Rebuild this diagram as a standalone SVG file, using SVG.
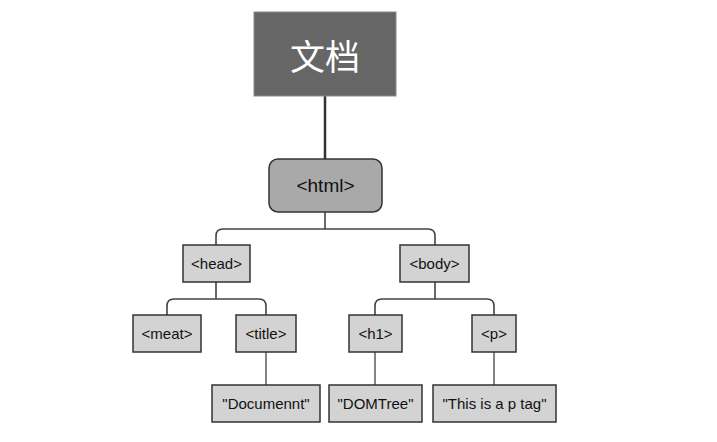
<svg xmlns="http://www.w3.org/2000/svg" width="717" height="442" viewBox="0 0 717 442">
<style>
.box{fill:#d3d3d3;stroke:#333;stroke-width:1.5}
.t{font-family:"Liberation Sans",Arial,sans-serif;font-size:15px;fill:#111;text-anchor:middle;dominant-baseline:central}
.ln{fill:none;stroke:#444;stroke-width:1.6}
.ln2{fill:none;stroke:#666;stroke-width:1.6}
</style>
<rect width="717" height="442" fill="#fff"/>
<g id="connectors">
<line x1="325" y1="96" x2="325" y2="159" stroke="#333" stroke-width="2.5"/>
<path class="ln" d="M325 212 V229 M216 245 V236 Q216 229 223 229 H428 Q435 229 435 236 V245"/>
<path class="ln" d="M216 282 V299 M167 315 V306 Q167 299 174 299 H259 Q266 299 266 306 V315"/>
<path class="ln" d="M435 282 V299 M375 315 V306 Q375 299 382 299 H487 Q494 299 494 306 V315"/>
<path class="ln2" d="M266 352 V385 M375 352 V385 M494 352 V385"/>
</g>
<g id="doc">
<rect x="254" y="12" width="142" height="84" fill="#666" stroke="#888" stroke-width="1"/>
<text x="325" y="54" font-family="'Noto Sans CJK SC',sans-serif" font-size="35" fill="#fff" text-anchor="middle" dominant-baseline="central">文档</text>
</g>
<g id="html">
<rect x="269" y="159" width="113" height="53" rx="9" fill="#a9a9a9" stroke="#333" stroke-width="1.5"/>
<text class="t" x="325.5" y="185.5" style="font-size:19px">&lt;html&gt;</text>
</g>
<g id="head">
<rect class="box" x="183" y="245" width="67" height="37"/>
<text class="t" x="216.5" y="263.5">&lt;head&gt;</text>
</g>
<g id="body">
<rect class="box" x="400" y="245" width="69" height="37"/>
<text class="t" x="434.5" y="263.5">&lt;body&gt;</text>
</g>
<g id="meat">
<rect class="box" x="133" y="315" width="68" height="37"/>
<text class="t" x="167" y="333.5">&lt;meat&gt;</text>
</g>
<g id="title">
<rect class="box" x="236" y="315" width="60" height="37"/>
<text class="t" x="266" y="333.5">&lt;title&gt;</text>
</g>
<g id="h1">
<rect class="box" x="349" y="315" width="53" height="37"/>
<text class="t" x="375.5" y="333.5">&lt;h1&gt;</text>
</g>
<g id="p">
<rect class="box" x="472" y="315" width="44" height="37"/>
<text class="t" x="494" y="333.5">&lt;p&gt;</text>
</g>
<g id="documennt">
<rect class="box" x="212" y="385" width="108" height="37"/>
<text class="t" x="266" y="403.5">"Documennt"</text>
</g>
<g id="domtree">
<rect class="box" x="329" y="385" width="93" height="37"/>
<text class="t" x="375.5" y="403.5">"DOMTree"</text>
</g>
<g id="ptext">
<rect class="box" x="433" y="385" width="123" height="37"/>
<text class="t" x="494.5" y="403.5">"This is a p tag"</text>
</g>
</svg>
